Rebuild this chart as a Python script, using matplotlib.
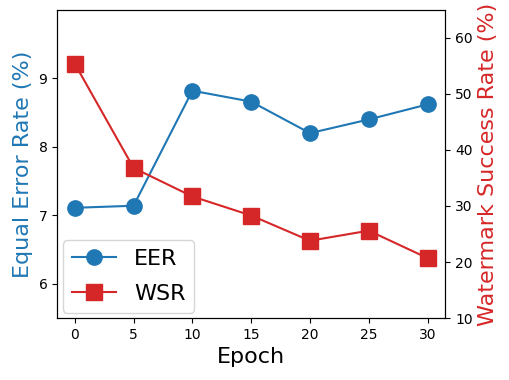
import matplotlib
matplotlib.use("Agg")
import matplotlib.pyplot as plt

# --- data ---
epochs = [0, 5, 10, 15, 20, 25, 30]
eer = [7.11, 7.14, 8.82, 8.66, 8.20, 8.40, 8.62]
wsr = [55.4, 36.8, 31.7, 28.3, 23.8, 25.6, 20.7]

fig, ax1 = plt.subplots(figsize=(5.1, 3.8), dpi=100)
ax2 = ax1.twinx()

l1, = ax1.plot(epochs, eer, '-o', color='tab:blue', markersize=11, label='EER')
l2, = ax2.plot(epochs, wsr, '-s', color='tab:red', markersize=11, label='WSR')

ax1.set_xlabel("Epoch", fontsize=16)
ax1.set_ylabel("Equal Error Rate (%)", color='tab:blue', fontsize=16)
ax2.set_ylabel("Watermark Success Rate (%)", color='tab:red', fontsize=16)

ax1.set_ylim(5.5, 10.0)
ax1.set_yticks([6, 7, 8, 9])
ax2.set_ylim(10, 65)
ax1.set_xticks(epochs)

ax1.legend([l1, l2], ['EER', 'WSR'], loc='lower left', fontsize=16,
           borderaxespad=0.25, labelspacing=0.65)

plt.subplots_adjust(left=0.112, right=0.873, top=0.974, bottom=0.163)
plt.savefig("out.png")
